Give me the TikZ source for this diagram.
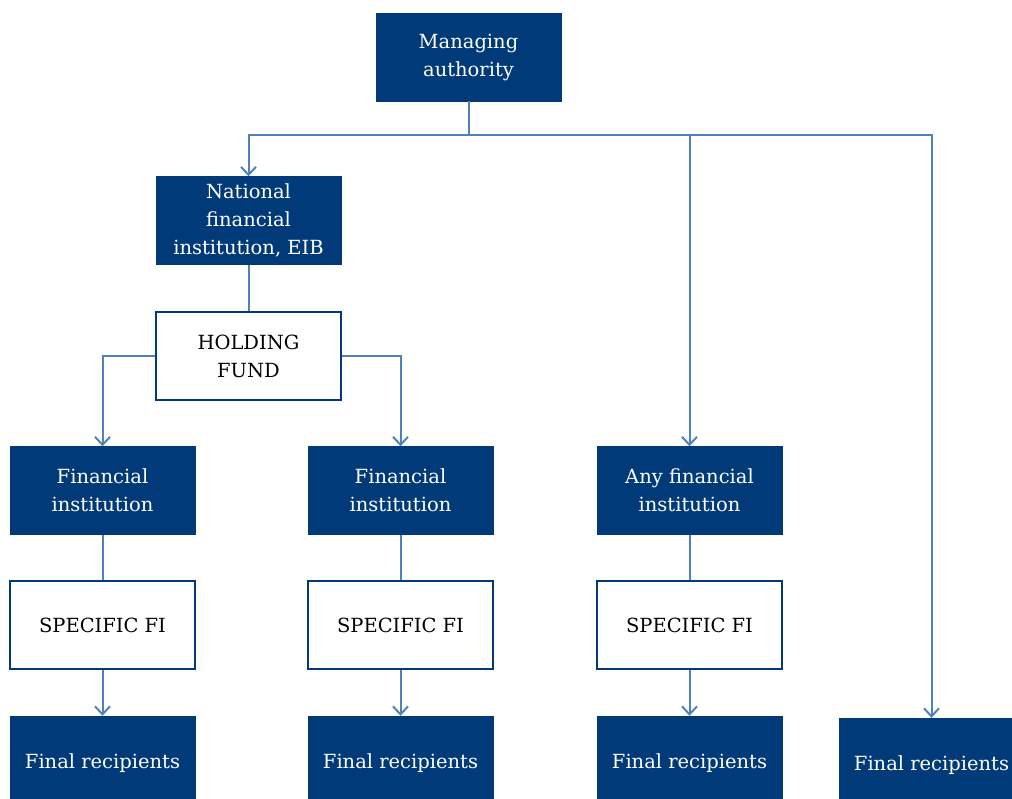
\documentclass[tikz,border=0pt]{standalone}
\usepackage{fontspec}
\setmainfont{DejaVu Serif}
\usetikzlibrary{arrows.meta}
\definecolor{navy}{RGB}{0,58,120}
\definecolor{steel}{RGB}{79,129,189}
\begin{document}
\begin{tikzpicture}[x=1pt,y=-1pt,
 dark/.style={rectangle, fill=navy, draw=navy, text=white, minimum width=185pt, minimum height=88pt, inner sep=0pt, align=center, font=\fontsize{19.5}{28}\selectfont},
 light/.style={dark, fill=white, text=black, line width=2pt},
 cut/.style={dark, minimum height=94pt},
 conn/.style={draw=steel, line width=2pt},
 arr/.style={conn, -{Straight Barb[length=8pt,width=15pt]}}]
\path[use as bounding box, clip] (0,0) rectangle (1012,798);
\node[dark] (ma) at (468.5,57) {\raisebox{-3pt}{Managing}\\\raisebox{-3pt}{authority}};
\node[dark] (nfi) at (248.5,220.5) {National\\financial\\institution, EIB};
\node[light] (hf) at (248.5,356) {HOLDING\\FUND};
\node[dark] (fi1) at (102.5,490.5) {Financial\\institution};
\node[dark] (fi2) at (400.5,490.5) {Financial\\institution};
\node[dark] (afi) at (689.5,490.5) {Any financial\\institution};
\node[light] (sfi1) at (102.5,625) {SPECIFIC FI};
\node[light] (sfi2) at (400.5,625) {SPECIFIC FI};
\node[light] (sfi3) at (689.5,625) {SPECIFIC FI};
\node[cut] (fr1) at (102.5,763) {Final recipients};
\node[cut] (fr2) at (400.5,763) {Final recipients};
\node[cut] (fr3) at (689.5,763) {Final recipients};
\node[cut] (fr4) at (931.5,765) {Final recipients};
\coordinate (j) at (468.5,135);
\draw[conn] (ma.south) -- (j);
\draw[arr] (j) -| (nfi.north);
\draw[arr] (j) -| (afi.north);
\draw[arr] (j) -| (fr4.north);
\draw[conn] (nfi.south) -- (hf.north);
\draw[arr] (hf.west) -| (fi1.north);
\draw[arr] (hf.east) -| (fi2.north);
\draw[conn] (fi1.south) -- (sfi1.north);
\draw[conn] (fi2.south) -- (sfi2.north);
\draw[conn] (afi.south) -- (sfi3.north);
\draw[arr] (sfi1.south) -- (fr1.north);
\draw[arr] (sfi2.south) -- (fr2.north);
\draw[arr] (sfi3.south) -- (fr3.north);
\end{tikzpicture}
\end{document}
